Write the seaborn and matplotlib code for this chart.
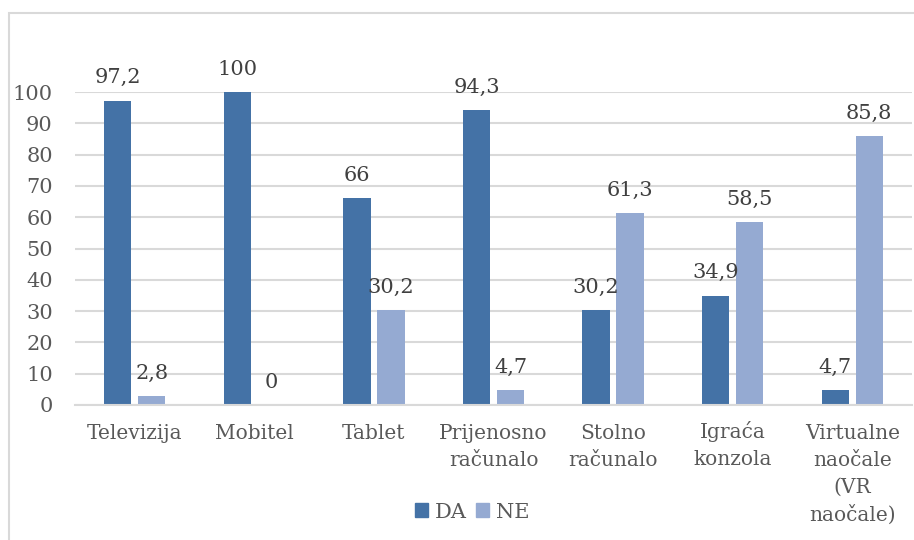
import matplotlib
matplotlib.use("Agg")
import matplotlib.pyplot as plt
import matplotlib.patches as mpatches
import seaborn as sns
import pandas as pd

categories = ["Televizija", "Mobitel", "Tablet", "Prijenosno\nračunalo", "Stolno\nračunalo",
              "Igraća\nkonzola", "Virtualne\nnaočale\n(VR\nnaočale)"]
da_values = [97.2, 100, 66, 94.3, 30.2, 34.9, 4.7]
ne_values = [2.8, 0, 30.2, 4.7, 61.3, 58.5, 85.8]
series_names = ["DA", "NE"]
y_ticks = [0, 10, 20, 30, 40, 50, 60, 70, 80, 90, 100]

colors = {"DA": "#4472a6", "NE": "#95aad2"}

df = pd.DataFrame({
    "kategorija": categories * 2,
    "serija": [series_names[0]] * len(categories) + [series_names[1]] * len(categories),
    "vrijednost": da_values + ne_values,
})

sns.set_theme(style="white")
plt.rcParams["font.family"] = ["DejaVu Serif"]

fig = plt.figure(figsize=(9.14, 5.40), dpi=100)
ax = fig.add_axes([75 / 914, 1 - 405 / 540, 837 / 914, 313 / 540])

sns.barplot(data=df, x="kategorija", y="vrijednost", hue="serija", order=categories,
            hue_order=series_names, palette=colors, width=0.57, gap=0.2,
            saturation=1, ax=ax, legend=True, errorbar=None, linewidth=0)

ax.set_ylim(0, 100)
ax.set_xlim(-0.5, len(categories) - 0.5)
ax.set_yticks(y_ticks)
ax.set_yticklabels([str(t) for t in y_ticks])
ax.set_xticks(range(len(categories)))
ax.set_xticklabels(categories, va="top", linespacing=1.5)
ax.yaxis.grid(True, color="#d9d9d9", linewidth=1.5)
ax.set_axisbelow(True)
for s in ["top", "right", "left"]:
    ax.spines[s].set_visible(False)
ax.spines["bottom"].set_color("#d9d9d9")
ax.spines["bottom"].set_linewidth(1.5)
ax.tick_params(axis="y", length=0, pad=16, labelsize=15, labelcolor="#595959")
ax.tick_params(axis="x", length=0, pad=14, labelsize=14.5, labelcolor="#595959")
ax.set_xlabel("")
ax.set_ylabel("")
# the accent on "ć" makes the first line taller; nudge that label up to align with the others
for lbl in ax.get_xticklabels():
    if "ć" in lbl.get_text().split("\n")[0]:
        lbl.set_y(3 / 313)


def fmt(v):
    if float(v).is_integer():
        return str(int(v))
    return f"{v:.1f}".replace(".", ",")


for container in ax.containers:
    for bar in container:
        h = bar.get_height()
        ax.annotate(fmt(h), xy=(bar.get_x() + bar.get_width() / 2, h),
                    xytext=(0, 12.5), textcoords="offset points",
                    ha="center", va="baseline", fontsize=15, color="#404040",
                    annotation_clip=False)

leg = ax.get_legend()
if leg is not None:
    leg.remove()
handles = [mpatches.Patch(color=colors[n]) for n in series_names]
fig.legend(handles, series_names, loc="center", bbox_to_anchor=(472 / 914, 1 - 512 / 540),
           ncol=2, frameon=False, fontsize=15, handlelength=0.65, handleheight=0.65,
           handletextpad=0.3, columnspacing=0.45, labelcolor="#595959")

frame = mpatches.Rectangle((9 / 914, -0.2), 1.2, 0.2 + 1 - 13 / 540, transform=fig.transFigure,
                           fill=False, edgecolor="#d9d9d9", linewidth=1.5)
fig.patches.append(frame)

fig.savefig("out.png", dpi=100)
